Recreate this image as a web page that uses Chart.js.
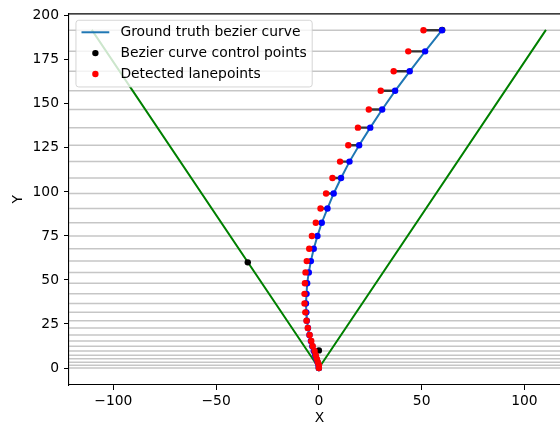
<!DOCTYPE html>
<html>
<head>
<meta charset="utf-8">
<script src="https://cdn.jsdelivr.net/npm/chart.js@4.4.0/dist/chart.umd.min.js"></script>
<style>
  html, body { margin: 0; padding: 0; background: #fff; overflow: hidden; }
  #wrap { width: 560px; height: 425px; overflow: hidden; }
</style>
</head>
<body>
<div id="wrap"><canvas id="laneChart" width="574" height="425"></canvas></div>
<script>
// lane rows (Y) and the x of each point on that row
const laneY = [191.8, 179.8, 168.5, 157.4, 146.8, 136.5, 126.5, 117.2, 107.9, 99.1,
               90.6, 82.5, 75.0, 67.7, 60.7, 54.3, 48.1, 42.1, 36.7, 31.6,
               26.9, 22.7, 18.7, 15.3, 12.4, 9.7, 7.3, 5.2, 3.3, 1.6, 0];
const gtX = [59.9, 51.7, 44.2, 37.1, 30.8, 25.0, 19.6, 14.9, 10.8, 7.2,
             4.2, 1.4, -0.7, -2.5, -3.9, -4.9, -5.7, -6.0, -6.3, -6.1,
             -5.9, -5.3, -4.6, -3.9, -3.2, -2.5, -1.8, -1.2, -0.6, -0.2, 0];
const detX = [50.9, 43.5, 36.4, 30.1, 24.3, 19.0, 14.3, 10.3, 6.6, 3.5,
              0.8, -1.5, -3.4, -4.7, -5.9, -6.5, -6.8, -7.0, -7.0, -6.6,
              -6.0, -5.4, -4.5, -3.7, -3.0, -2.1, -1.5, -1.0, -0.5, 0.0, 0.0];

// bezier control points
const ctrlX = [0, 0, -34.6, 60];
const ctrlY = [0, 10, 60, 192];

// the two green boundary lines (V shape)
const boundX = [-110.5, 0, 110.5];
const boundY = [192, 0, 192];

const xTicks = [-100, -50, 0, 50, 100];
const yTicks = [0, 25, 50, 75, 100, 125, 150, 175, 200];
const xRange = [-121.6, 122.2];
const yRange = [-9.65, 201.4];

const FONT = "'DejaVu Sans', sans-serif";
const FS = 13.89;

const toPts = (xs, ys) => xs.map((x, i) => ({ x: x, y: ys[i] }));
const minus = v => String(v).replace('-', '\u2212');

// horizontal grey line for every lane row (spans whole axis like axhline)
const rowLines = laneY.map(y => ({
    data: [{ x: xRange[0], y: y }, { x: xRange[1], y: y }],
    showLine: true,
    borderColor: 'rgba(128,128,128,0.45)',
    borderWidth: 1.5,
    pointRadius: 0,
    order: 100
}));

// black segment from detected point to ground truth point on the same row
const links = laneY.map((y, i) => ({
    data: [{ x: detX[i], y: y }, { x: gtX[i], y: y }],
    showLine: true,
    borderColor: 'rgba(0,0,0,0.75)',
    borderWidth: 2.4,
    pointRadius: 0,
    order: 65
}));

const datasets = [
    {
        label: 'Ground truth bezier curve',
        data: toPts(gtX, laneY),
        showLine: true,
        borderColor: '#1f77b4',
        borderWidth: 2,
        pointRadius: 0,
        tension: 0,
        order: 70
    },
    {
        label: 'Bezier curve control points',
        data: toPts(ctrlX, ctrlY),
        backgroundColor: '#000',
        borderWidth: 0,
        pointRadius: 3.2,
        order: 75
    },
    {
        label: 'Detected lanepoints',
        data: toPts(detX, laneY),
        backgroundColor: '#ff0000',
        borderWidth: 0,
        pointRadius: 3.2,
        order: 50
    },
    {
        data: toPts(gtX, laneY),
        backgroundColor: '#0000ff',
        borderWidth: 0,
        pointRadius: 3.2,
        order: 60
    },
    {
        data: toPts(boundX, boundY),
        showLine: true,
        borderColor: '#008000',
        borderWidth: 2,
        pointRadius: 0,
        order: 90
    }
].concat(links, rowLines);

// matplotlib-like legend drawn inside the axes, over the data
const insideLegend = {
    id: 'insideLegend',
    afterDatasetsDraw(chart) {
        const { ctx, chartArea } = chart;
        const items = chart.data.datasets.filter(d => d.label);
        ctx.save();
        ctx.font = FS + 'px ' + FONT;
        const textW = Math.max(...items.map(d => ctx.measureText(d.label).width));
        const pad = 0.4 * FS, handle = 2 * FS, textGap = 0.8 * FS, rowH = FS, spacing = 0.5 * FS;
        const x0 = chartArea.left + 0.5 * FS;
        const y0 = chartArea.top + 0.5 * FS;
        const w = 2 * pad + handle + textGap + textW;
        const h = 2 * pad + items.length * rowH + (items.length - 1) * spacing;

        ctx.beginPath();
        ctx.roundRect(x0, y0, w, h, 0.2 * FS);
        ctx.fillStyle = 'rgba(255,255,255,0.8)';
        ctx.fill();
        ctx.lineWidth = 1;
        ctx.strokeStyle = 'rgba(204,204,204,0.8)';
        ctx.stroke();

        items.forEach((d, i) => {
            const cy = y0 + pad + rowH / 2 + i * (rowH + spacing) - 0.5;
            const hx = x0 + pad;
            if (d.showLine) {
                ctx.beginPath();
                ctx.moveTo(hx, cy);
                ctx.lineTo(hx + handle, cy);
                ctx.strokeStyle = d.borderColor;
                ctx.lineWidth = d.borderWidth;
                ctx.stroke();
            } else {
                ctx.beginPath();
                ctx.arc(hx + handle / 2, cy, d.pointRadius, 0, Math.PI * 2);
                ctx.fillStyle = d.backgroundColor;
                ctx.fill();
            }
            ctx.fillStyle = '#000';
            ctx.textBaseline = 'middle';
            ctx.textAlign = 'left';
            ctx.fillText(d.label, hx + handle + textGap, cy);
        });
        ctx.restore();
    },
    afterDraw(chart) {
        // top and right spines
        const { ctx, chartArea } = chart;
        ctx.save();
        ctx.strokeStyle = '#000';
        ctx.lineWidth = 1.1;
        ctx.beginPath();
        ctx.moveTo(chartArea.left, chartArea.top + 0.5);
        ctx.lineTo(chartArea.right, chartArea.top + 0.5);
        ctx.lineTo(chartArea.right, chartArea.bottom);
        ctx.stroke();
        ctx.restore();
    }
};

const axisCommon = {
    type: 'linear',
    grid: { display: true, drawOnChartArea: false, drawTicks: true, tickLength: 5, color: '#000', lineWidth: 1 },
    border: { display: true, color: '#000', width: 1.1 },
    ticks: { color: '#000', font: { family: FONT, size: FS }, maxRotation: 0, callback: minus },
};

new Chart(document.getElementById('laneChart'), {
    type: 'scatter',
    data: { datasets: datasets },
    plugins: [insideLegend],
    options: {
        responsive: false,
        animation: false,
        devicePixelRatio: 1,
        events: [],
        layout: { padding: { top: 11, right: 1, bottom: 0, left: 0 } },
        plugins: { legend: { display: false }, tooltip: { enabled: false } },
        scales: {
            x: Object.assign({}, axisCommon, {
                min: xRange[0],
                max: xRange[1],
                ticks: Object.assign({}, axisCommon.ticks, { padding: 3 }),
                afterBuildTicks: s => { s.ticks = xTicks.map(v => ({ value: v })); },
                afterFit: s => { s.height = 40; },
                title: { display: true, text: 'X', color: '#000', font: { family: FONT, size: FS }, padding: { top: 0, bottom: -2 } }
            }),
            y: Object.assign({}, axisCommon, {
                min: yRange[0],
                max: yRange[1],
                ticks: Object.assign({}, axisCommon.ticks, { padding: 5 }),
                afterBuildTicks: s => { s.ticks = yTicks.map(v => ({ value: v })); },
                afterFit: s => { s.width = 69; },
                title: { display: true, text: 'Y', color: '#000', font: { family: FONT, size: FS }, padding: { top: 9.7, bottom: 0 } }
            })
        }
    }
});
</script>
</body>
</html>
